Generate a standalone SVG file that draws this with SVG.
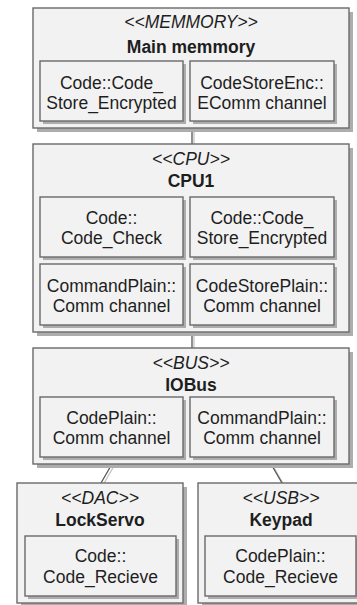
<svg xmlns="http://www.w3.org/2000/svg" width="357" height="605" viewBox="0 0 357 605">
<style>
.box{fill:#f2f2f2;stroke:#6a6a6a;stroke-width:1.4}
.sh{fill:#adadad}
.t{font-family:"Liberation Sans",Arial,sans-serif;font-size:17.5px;fill:#1e1e1e;text-anchor:middle}
.st{font-style:italic}
.b{font-weight:bold}
.ln{stroke:#555;stroke-width:1.3;fill:none}
.lns{stroke:#c4c4c4;stroke-width:1.3;fill:none}
</style>
<rect width="357" height="605" fill="#fff"/>
<g id="connectors">
<line class="lns" x1="194" y1="130" x2="194" y2="146"/>
<line class="ln" x1="192" y1="128" x2="192" y2="144"/>
<line class="lns" x1="194" y1="334" x2="194" y2="350"/>
<line class="ln" x1="192" y1="332" x2="192" y2="348"/>
<line class="lns" x1="114" y1="466" x2="103" y2="485"/>
<line class="ln" x1="112" y1="464" x2="101" y2="483"/>
<line class="lns" x1="273" y1="466" x2="284" y2="485"/>
<line class="ln" x1="271" y1="464" x2="282" y2="483"/>
</g>
<g id="memory">
<rect class="sh" x="37" y="12" width="316" height="120"/>
<rect class="box" x="33" y="8" width="316" height="120"/>
<text class="t st" x="191" y="28">&lt;&lt;MEMMORY&gt;&gt;</text>
<text class="t b" x="191" y="52.5">Main memmory</text>
<g id="mem-a">
<rect class="sh" x="43" y="64" width="143" height="60"/>
<rect class="box" x="40" y="61" width="143" height="60"/>
<text class="t" x="111.5" y="88.5">Code::Code_</text>
<text class="t" x="111.5" y="108.5">Store_Encrypted</text>
</g>
<g id="mem-b">
<rect class="sh" x="193" y="64" width="144" height="60"/>
<rect class="box" x="190" y="61" width="144" height="60"/>
<text class="t" x="262" y="88.5">CodeStoreEnc::</text>
<text class="t" x="262" y="108.5">EComm channel</text>
</g>
</g>
<g id="cpu">
<rect class="sh" x="37" y="148" width="316" height="188"/>
<rect class="box" x="33" y="144" width="316" height="188"/>
<text class="t st" x="191" y="164.5">&lt;&lt;CPU&gt;&gt;</text>
<text class="t b" x="191" y="187">CPU1</text>
<g id="cpu-a">
<rect class="sh" x="43" y="200" width="143" height="60"/>
<rect class="box" x="40" y="197" width="143" height="60"/>
<text class="t" x="111.5" y="223.5">Code::</text>
<text class="t" x="111.5" y="243.5">Code_Check</text>
</g>
<g id="cpu-b">
<rect class="sh" x="193" y="200" width="144" height="60"/>
<rect class="box" x="190" y="197" width="144" height="60"/>
<text class="t" x="262" y="223.5">Code::Code_</text>
<text class="t" x="262" y="243.5">Store_Encrypted</text>
</g>
<g id="cpu-c">
<rect class="sh" x="43" y="267" width="143" height="61"/>
<rect class="box" x="40" y="264" width="143" height="61"/>
<text class="t" x="111.5" y="291.5">CommandPlain::</text>
<text class="t" x="111.5" y="311.5">Comm channel</text>
</g>
<g id="cpu-d">
<rect class="sh" x="193" y="267" width="144" height="61"/>
<rect class="box" x="190" y="264" width="144" height="61"/>
<text class="t" x="262" y="291.5">CodeStorePlain::</text>
<text class="t" x="262" y="311.5">Comm channel</text>
</g>
</g>
<g id="iobus">
<rect class="sh" x="37" y="352" width="316" height="116"/>
<rect class="box" x="33" y="348" width="316" height="116"/>
<text class="t st" x="191" y="368.5">&lt;&lt;BUS&gt;&gt;</text>
<text class="t b" x="191" y="391">IOBus</text>
<g id="bus-a">
<rect class="sh" x="43" y="400" width="143" height="60"/>
<rect class="box" x="40" y="397" width="143" height="60"/>
<text class="t" x="111.5" y="423.5">CodePlain::</text>
<text class="t" x="111.5" y="443.5">Comm channel</text>
</g>
<g id="bus-b">
<rect class="sh" x="193" y="400" width="144" height="60"/>
<rect class="box" x="190" y="397" width="144" height="60"/>
<text class="t" x="262" y="423.5">CommandPlain::</text>
<text class="t" x="262" y="443.5">Comm channel</text>
</g>
</g>
<g id="lockservo">
<rect class="sh" x="21" y="487" width="166" height="120"/>
<rect class="box" x="17" y="483" width="166" height="120"/>
<text class="t st" x="100" y="504">&lt;&lt;DAC&gt;&gt;</text>
<text class="t b" x="100" y="526">LockServo</text>
<g id="ls-a">
<rect class="sh" x="28" y="539" width="151" height="60"/>
<rect class="box" x="25" y="536" width="151" height="60"/>
<text class="t" x="100.5" y="562">Code::</text>
<text class="t" x="100.5" y="582.5">Code_Recieve</text>
</g>
</g>
<g id="keypad">
<rect class="sh" x="202" y="487" width="166" height="120"/>
<rect class="box" x="198" y="483" width="166" height="120"/>
<text class="t st" x="281" y="504">&lt;&lt;USB&gt;&gt;</text>
<text class="t b" x="281" y="526">Keypad</text>
<g id="kp-a">
<rect class="sh" x="208" y="539" width="151" height="60"/>
<rect class="box" x="205" y="536" width="151" height="60"/>
<text class="t" x="280.5" y="562">CodePlain::</text>
<text class="t" x="280.5" y="582.5">Code_Recieve</text>
</g>
</g>
</svg>
